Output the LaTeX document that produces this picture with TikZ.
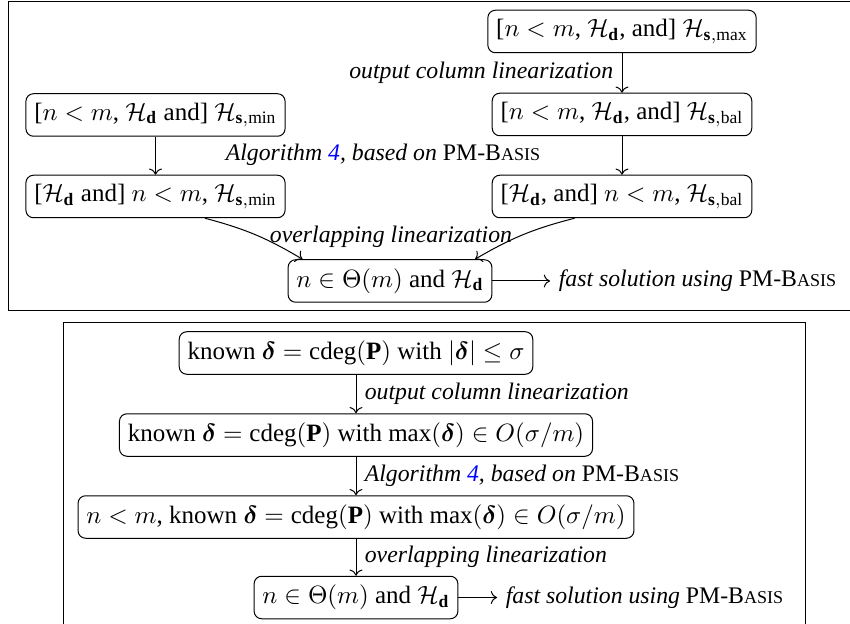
\documentclass[tikz,border=0pt]{standalone}
\usepackage{amsmath}
\usepackage{fontspec}
\setmainfont{Liberation Serif}
\usepackage{tikz}
\usetikzlibrary{arrows.meta,positioning}
\definecolor{linkblue}{HTML}{0000FF}
\newcommand{\Hd}{\mathcal{H}_{\mathbf{d}}}
\newcommand{\Hs}[1]{\mathcal{H}_{\mathbf{s},\mathrm{#1}}}
\newcommand{\pmbasis}{\textup{PM-B{\fontsize{0.76em}{1em}\selectfont ASIS}}}
\newcommand{\cdegop}{\operatorname{cdeg}}

\begin{document}
\begin{tikzpicture}[
  x=0.4pt, y=-0.4pt,
  state/.style={draw, rounded corners=3pt, minimum height=17pt},
  trans/.style={font=\fontsize{9.5}{11}\selectfont\itshape},
  flow/.style={->},
  frame/.style={draw, line width=0.4pt}
]
\useasboundingbox (0,0) rectangle (850,624);
% frames
\draw[frame] (8,2) rectangle (880,311);
\draw[frame] (63,323) rectangle (805,660);
% upper diagram
\node[state] (smax)  at (622,31.5)  {[$n<m$, $\Hd$, and] $\Hs{max}$};
\node[state] (sbal)  at (622,114.5) {[$n<m$, $\Hd$, and] $\Hs{bal}$};
\node[state] (sbal2) at (622,196.5) {[$\Hd$, and] $n<m$, $\Hs{bal}$};
\node[state] (smin)  at (155.5,115) {[$n<m$, $\Hd$ and] $\Hs{min}$};
\node[state] (smin2) at (155.5,196.5) {[$\Hd$ and] $n<m$, $\Hs{min}$};
\node[state] (thetaA) at (390,281) {$n\in\Theta(m)$ and $\Hd$};
\node[trans, anchor=west] (fastA) at (550,281) {fast solution using \pmbasis};
\draw[flow] (smax) -- node[trans, left] {output column linearization} (sbal);
\draw[flow] (sbal) -- (sbal2);
\draw[flow] (smin) -- (smin2);
\node[trans] (algA) at (383,155) {Algorithm \textcolor{linkblue}{4}, based on \pmbasis};
\draw[flow] ([xshift=19.8pt]smin2.south) to[bend left=8] ([xshift=-35pt]thetaA.north);
\draw[flow] ([xshift=-19pt]sbal2.south) to[bend right=8] ([xshift=34pt]thetaA.north);
\node[trans] (overA) at (391,237) {overlapping linearization};
\draw[flow] (thetaA) -- (fastA);
% lower diagram
\node[state] (kdeg)  at (356,353) {known $\boldsymbol{\delta}=\cdegop(\mathbf{P})$ with $|\boldsymbol{\delta}|\le\sigma$};
\node[state] (kmax)  at (356,435) {known $\boldsymbol{\delta}=\cdegop(\mathbf{P})$ with $\max(\boldsymbol{\delta})\in O(\sigma/m)$};
\node[state] (kmaxn) at (356,517) {$n<m$, known $\boldsymbol{\delta}=\cdegop(\mathbf{P})$ with $\max(\boldsymbol{\delta})\in O(\sigma/m)$};
\node[state] (thetaB) at (356,597.5) {$n\in\Theta(m)$ and $\Hd$};
\node[trans, anchor=west] (fastB) at (497,597.5) {fast solution using \pmbasis};
\draw[flow] (kdeg) -- node[trans, right] {output column linearization} (kmax);
\draw[flow] (kmax) -- node[trans, right] {Algorithm \textcolor{linkblue}{4}, based on \pmbasis} (kmaxn);
\draw[flow] (kmaxn) -- node[trans, right] {overlapping linearization} (thetaB);
\draw[flow] (thetaB) -- (fastB);
\end{tikzpicture}
\end{document}
